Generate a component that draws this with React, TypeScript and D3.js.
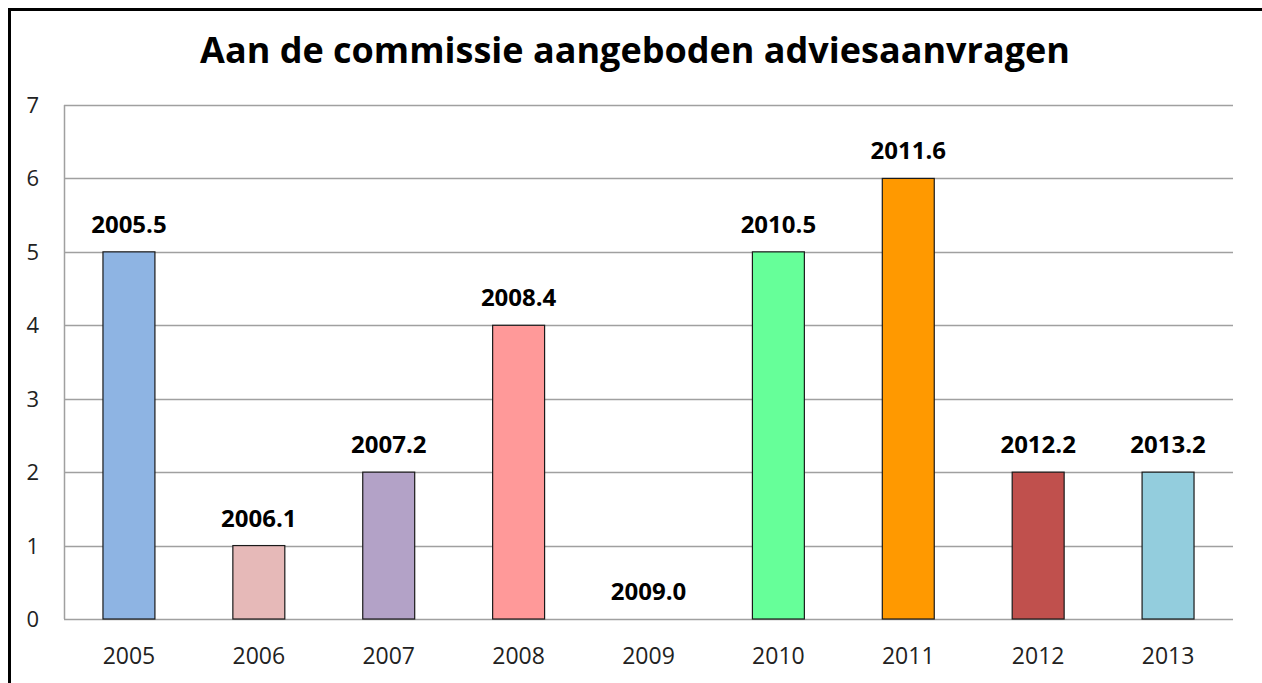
import React from "react";
import * as d3 from "d3";

const categories = ["2005", "2006", "2007", "2008", "2009", "2010", "2011", "2012", "2013"];
const values = [5, 1, 2, 4, 0, 5, 6, 2, 2];
const valueLabels = ["2005.5", "2006.1", "2007.2", "2008.4", "2009.0", "2010.5", "2011.6", "2012.2", "2013.2"];
const barColors = ["#8EB4E3", "#E6B9B8", "#B3A2C7", "#FF9999", "#CCCCCC", "#66FF99", "#FF9900", "#C0504D", "#93CDDD"];
const yTicks = [0, 1, 2, 3, 4, 5, 6, 7];
const title = "Aan de commissie aangeboden adviesaanvragen";

export default function App() {
  const W = 1262, H = 683;
  const left = 64, right = 1233, top = 105, bottom = 619;
  const x = d3.scaleBand<string>().domain(categories).range([left, right]).paddingInner(0.6).paddingOuter(0.3);
  const y = d3.scaleLinear().domain([0, 7]).range([bottom, top]);
  const font = "'Open Sans', sans-serif";
  return (
    <svg width={W} height={H} style={{ position: "absolute", left: 0, top: 0, background: "#fff" }}>
      <rect x={0} y={0} width={W} height={H} fill="#fff" />
      <rect x={9.5} y={9.5} width={1400} height={900} fill="none" stroke="#000" strokeWidth={3} />
      <text x={635} y={63} textAnchor="middle" fontFamily={font} fontWeight="bold" fontSize={36} fill="#000">{title}</text>
      {yTicks.map((t) => (
        <g key={t}>
          <line x1={left} x2={right} y1={Math.round(y(t)) + 0.5} y2={Math.round(y(t)) + 0.5} stroke="#A0A0A0" strokeWidth={1.5} />
          <text x={39} y={y(t) + 8} textAnchor="end" fontFamily={font} fontSize={22} fill="#222">{t}</text>
        </g>
      ))}
      <line x1={left + 0.5} x2={left + 0.5} y1={top} y2={bottom} stroke="#A0A0A0" strokeWidth={1.5} />
      {categories.map((c, i) => {
        const bx = x(c)!;
        const bw = x.bandwidth();
        const cx = bx + bw / 2;
        return (
          <g key={c}>
            {values[i] > 0 && (
              <rect x={bx} y={y(values[i])} width={bw} height={y(0) - y(values[i])} fill={barColors[i]} stroke="#1a1a1a" strokeWidth={1.2} />
            )}
            <text x={cx} y={y(values[i]) - 19} textAnchor="middle" fontFamily={font} fontWeight="bold" fontSize={24} fill="#000">{valueLabels[i]}</text>
            <text x={cx} y={664} textAnchor="middle" fontFamily={font} fontSize={23} fill="#222">{c}</text>
          </g>
        );
      })}
    </svg>
  );
}
